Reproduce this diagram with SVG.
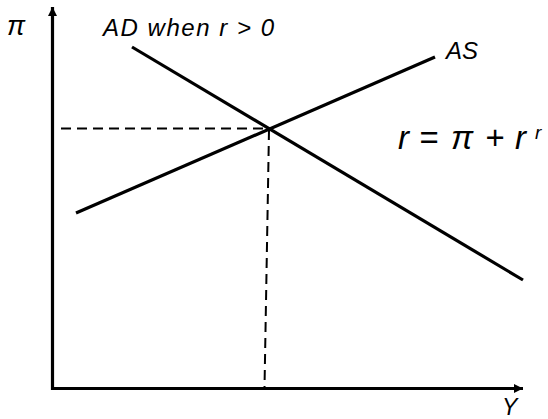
<svg xmlns="http://www.w3.org/2000/svg" width="548" height="419" viewBox="0 0 548 419">
<style>
text{font-family:"Liberation Sans",Arial,sans-serif;font-style:italic;fill:#000}
.ln{stroke:#000;stroke-width:3.2;fill:none}
.ds{stroke:#000;stroke-width:2;fill:none;stroke-dasharray:10,6}
</style>
<defs>
<marker id="ah" viewBox="0 0 10 10" refX="10" refY="5" markerWidth="9" markerHeight="9" markerUnits="userSpaceOnUse" orient="auto">
<path d="M0,0 L10,5 L0,10 Z" fill="#000"/>
</marker>
</defs>
<rect width="548" height="419" fill="#fff"/>
<g id="axes">
<line class="ln" x1="52.5" y1="390" x2="52.5" y2="7" marker-end="url(#ah)"/>
<line class="ln" x1="51" y1="388.5" x2="523" y2="388.5" marker-end="url(#ah)"/>
</g>
<g id="connectors">
<line class="ds" x1="61" y1="128.5" x2="270" y2="128.5"/>
<line class="ds" x1="269" y1="130" x2="264.5" y2="388"/>
</g>
<g id="AD">
<line class="ln" x1="132" y1="47" x2="523" y2="280"/>
<text x="103" y="36" font-size="24" textLength="171">AD when r &gt; 0</text>
</g>
<g id="AS">
<line class="ln" x1="76" y1="213" x2="435" y2="57"/>
<text x="446" y="59" font-size="24">AS</text>
</g>
<g id="labels">
<text x="7" y="35" font-size="27">π</text>
<text x="502" y="415" font-size="23">Y</text>
<text y="149" font-size="33"><tspan x="398">r</tspan><tspan x="419">=</tspan><tspan x="451">π</tspan><tspan x="485">+</tspan><tspan x="515">r</tspan></text>
<text x="535" y="139" font-size="19">r</text>
</g>
</svg>
